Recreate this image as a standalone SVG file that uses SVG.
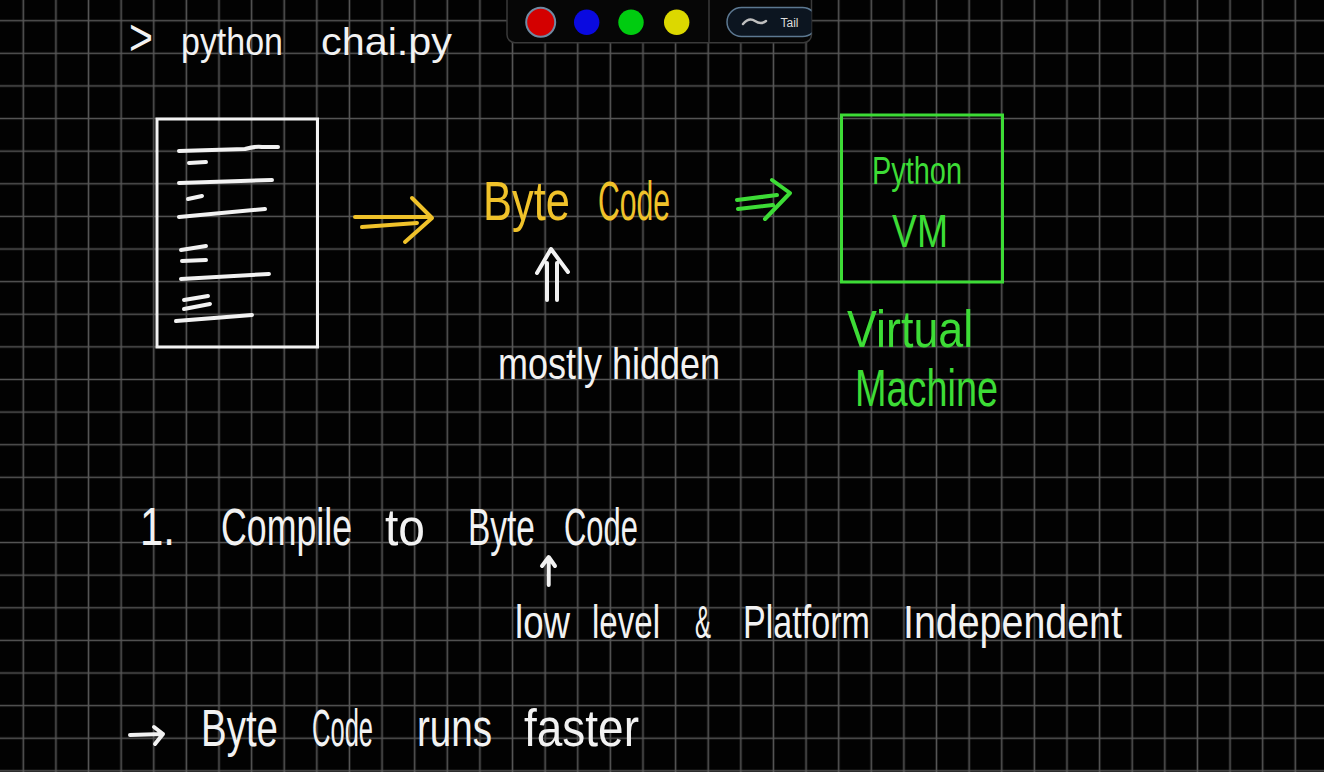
<svg xmlns="http://www.w3.org/2000/svg" width="1324" height="772" viewBox="0 0 1324 772">
<style>
  .w { fill: #f2f2f2; font-family: "Liberation Sans", Arial, sans-serif; }
  .y { fill: #f0c22a; font-family: "Liberation Sans", Arial, sans-serif; }
  .g { fill: #3ddc36; font-family: "Liberation Sans", Arial, sans-serif; }
  .ink-w { fill: none; stroke: #f2f2f2; stroke-width: 4; stroke-linecap: round; stroke-linejoin: round; }
  .ink-y { fill: none; stroke: #f0c22a; stroke-width: 4; stroke-linecap: round; stroke-linejoin: round; }
  .ink-g { fill: none; stroke: #3ddc36; stroke-width: 4; stroke-linecap: round; stroke-linejoin: round; }
</style>
<defs>
  <pattern id="grid" x="7" y="4.4" width="32.615" height="32.615" patternUnits="userSpaceOnUse">
    <path d="M16.3 0V32.615M0 16.3H32.615" stroke="#575757" stroke-width="1.6" fill="none"/>
  </pattern>
  <clipPath id="tbclip"><rect x="507" y="-10" width="304.5" height="52.7" rx="8"/></clipPath>
</defs>
<rect width="1324" height="772" fill="#020202"/>
<rect width="1324" height="772" fill="url(#grid)"/>

<g id="toolbar">
  <rect x="507" y="-10" width="304.5" height="52.7" rx="8" fill="#060606" stroke="#3a3a3a" stroke-width="1.5"/>
  <line x1="709" y1="0" x2="709" y2="42.7" stroke="#3a3a3a" stroke-width="1.5"/>
  <circle cx="540.7" cy="22.3" r="14.5" fill="#d40000" stroke="#6f8aa3" stroke-width="2"/>
  <circle cx="586.7" cy="22.3" r="12.7" fill="#0a0ae0"/>
  <circle cx="631" cy="22.3" r="12.7" fill="#00cc10"/>
  <circle cx="676.7" cy="22.3" r="12.7" fill="#dcd800"/>
  <g clip-path="url(#tbclip)">
    <rect x="727" y="7.5" width="90" height="29" rx="14.5" fill="#0c1520" stroke="#5c7891" stroke-width="1.5"/>
  </g>
  <path d="M743 24 Q749 17 755 21 T766 21" fill="none" stroke="#bfbfbf" stroke-width="2.5" stroke-linecap="round"/>
  <text x="780.5" y="26.5" font-size="12" fill="#dddddd" font-family="Liberation Sans, Arial, sans-serif">Tail</text>
</g>

<g id="command">
  <text class="w" font-size="52" transform="matrix(0.79 0 0 1 129 55)">&gt;</text>
  <text class="w" font-size="38" transform="matrix(0.894 0 0 1 181 55)">python</text>
  <text class="w" font-size="38" transform="matrix(1.088 0 0 1 321 55)">chai.py</text>
</g>

<g id="source-file">
  <rect x="157" y="119" width="160.5" height="228" fill="none" stroke="#f2f2f2" stroke-width="3"/>
  <path class="ink-w" d="M179 151 L245 149 Q256 146 262 147 L278 147"/>
  <path class="ink-w" d="M189 163 L206 162"/>
  <path class="ink-w" d="M179 183 L272 180"/>
  <path class="ink-w" d="M188 199 L202 196"/>
  <path class="ink-w" d="M179 217 L265 209"/>
  <path class="ink-w" d="M181 250 L206 246"/>
  <path class="ink-w" d="M182 261 L206 260"/>
  <path class="ink-w" d="M181 279 L269 274"/>
  <path class="ink-w" d="M184 300 L208 296"/>
  <path class="ink-w" d="M184 309 L210 304"/>
  <path class="ink-w" d="M176 321 L252 315"/>
</g>

<g id="bytecode">
  <text class="y" font-size="56" transform="matrix(0.776 0 0 1 483 220)">Byte</text>
  <text class="y" font-size="56" transform="matrix(0.538 0 0 1 598 220)">Code</text>
</g>

<g id="python-vm">
  <rect x="841.5" y="115" width="161" height="167" fill="none" stroke="#3ddc36" stroke-width="3"/>
  <text class="g" font-size="38" transform="matrix(0.761 0 0 1 872 184)">Python</text>
  <text class="g" font-size="46" transform="matrix(0.812 0 0 1 892 247)">VM</text>
</g>

<g id="virtual-machine">
  <text class="g" font-size="52" transform="matrix(0.862 0 0 1 847 347)">Virtual</text>
  <text class="g" font-size="52" transform="matrix(0.728 0 0 1 855 406)">Machine</text>
</g>

<g id="mostly-hidden">
  <text class="w" font-size="44" transform="matrix(0.818 0 0 1 498 379)">mostly hidden</text>
</g>

<g id="connectors">
  <path class="ink-y" d="M355 217 L430 217 M362 227 L417 223 M412 198 L432 218 L405 242"/>
  <path class="ink-g" d="M737 200 L777 195 M738 209 L773 205 M772 180 L790 193 L765 219"/>
  <path class="ink-w" d="M547 263 L547 300 M557 263 L557 300 M537 273 L551 249 L568 272"/>
  <path class="ink-w" stroke-width="3" d="M548.7 585 L548.7 558 M542 566 L548.7 557 L555 566"/>
  <path class="ink-w" stroke-width="3" d="M130 735 L163 734 M154 727 L163 734 L155 744"/>
</g>

<g id="step1">
  <text class="w" font-size="54" transform="matrix(0.777 0 0 1 140 545)">1.</text>
  <text class="w" font-size="52" transform="matrix(0.687 0 0 1 221 545)">Compile</text>
  <text class="w" font-size="52" transform="matrix(0.922 0 0 1 385 545)">to</text>
  <text class="w" font-size="52" transform="matrix(0.644 0 0 1 468 545)">Byte</text>
  <text class="w" font-size="52" transform="matrix(0.595 0 0 1 564 545)">Code</text>
</g>

<g id="note">
  <text class="w" font-size="46" transform="matrix(0.797 0 0 1 515 638)">low</text>
  <text class="w" font-size="46" transform="matrix(0.719 0 0 1 592 638)">level</text>
  <text class="w" font-size="46" transform="matrix(0.521 0 0 1 695 638)">&amp;</text>
  <text class="w" font-size="46" transform="matrix(0.741 0 0 1 743 638)">Platform</text>
  <text class="w" font-size="46" transform="matrix(0.856 0 0 1 903 638)">Independent</text>
</g>

<g id="faster">
  <text class="w" font-size="52" transform="matrix(0.74 0 0 1 201 746)">Byte</text>
  <text class="w" font-size="52" transform="matrix(0.491 0 0 1 312 746)">Code</text>
  <text class="w" font-size="52" transform="matrix(0.742 0 0 1 417 746)">runs</text>
  <text class="w" font-size="52" transform="matrix(0.884 0 0 1 524 746)">faster</text>
</g>
</svg>
